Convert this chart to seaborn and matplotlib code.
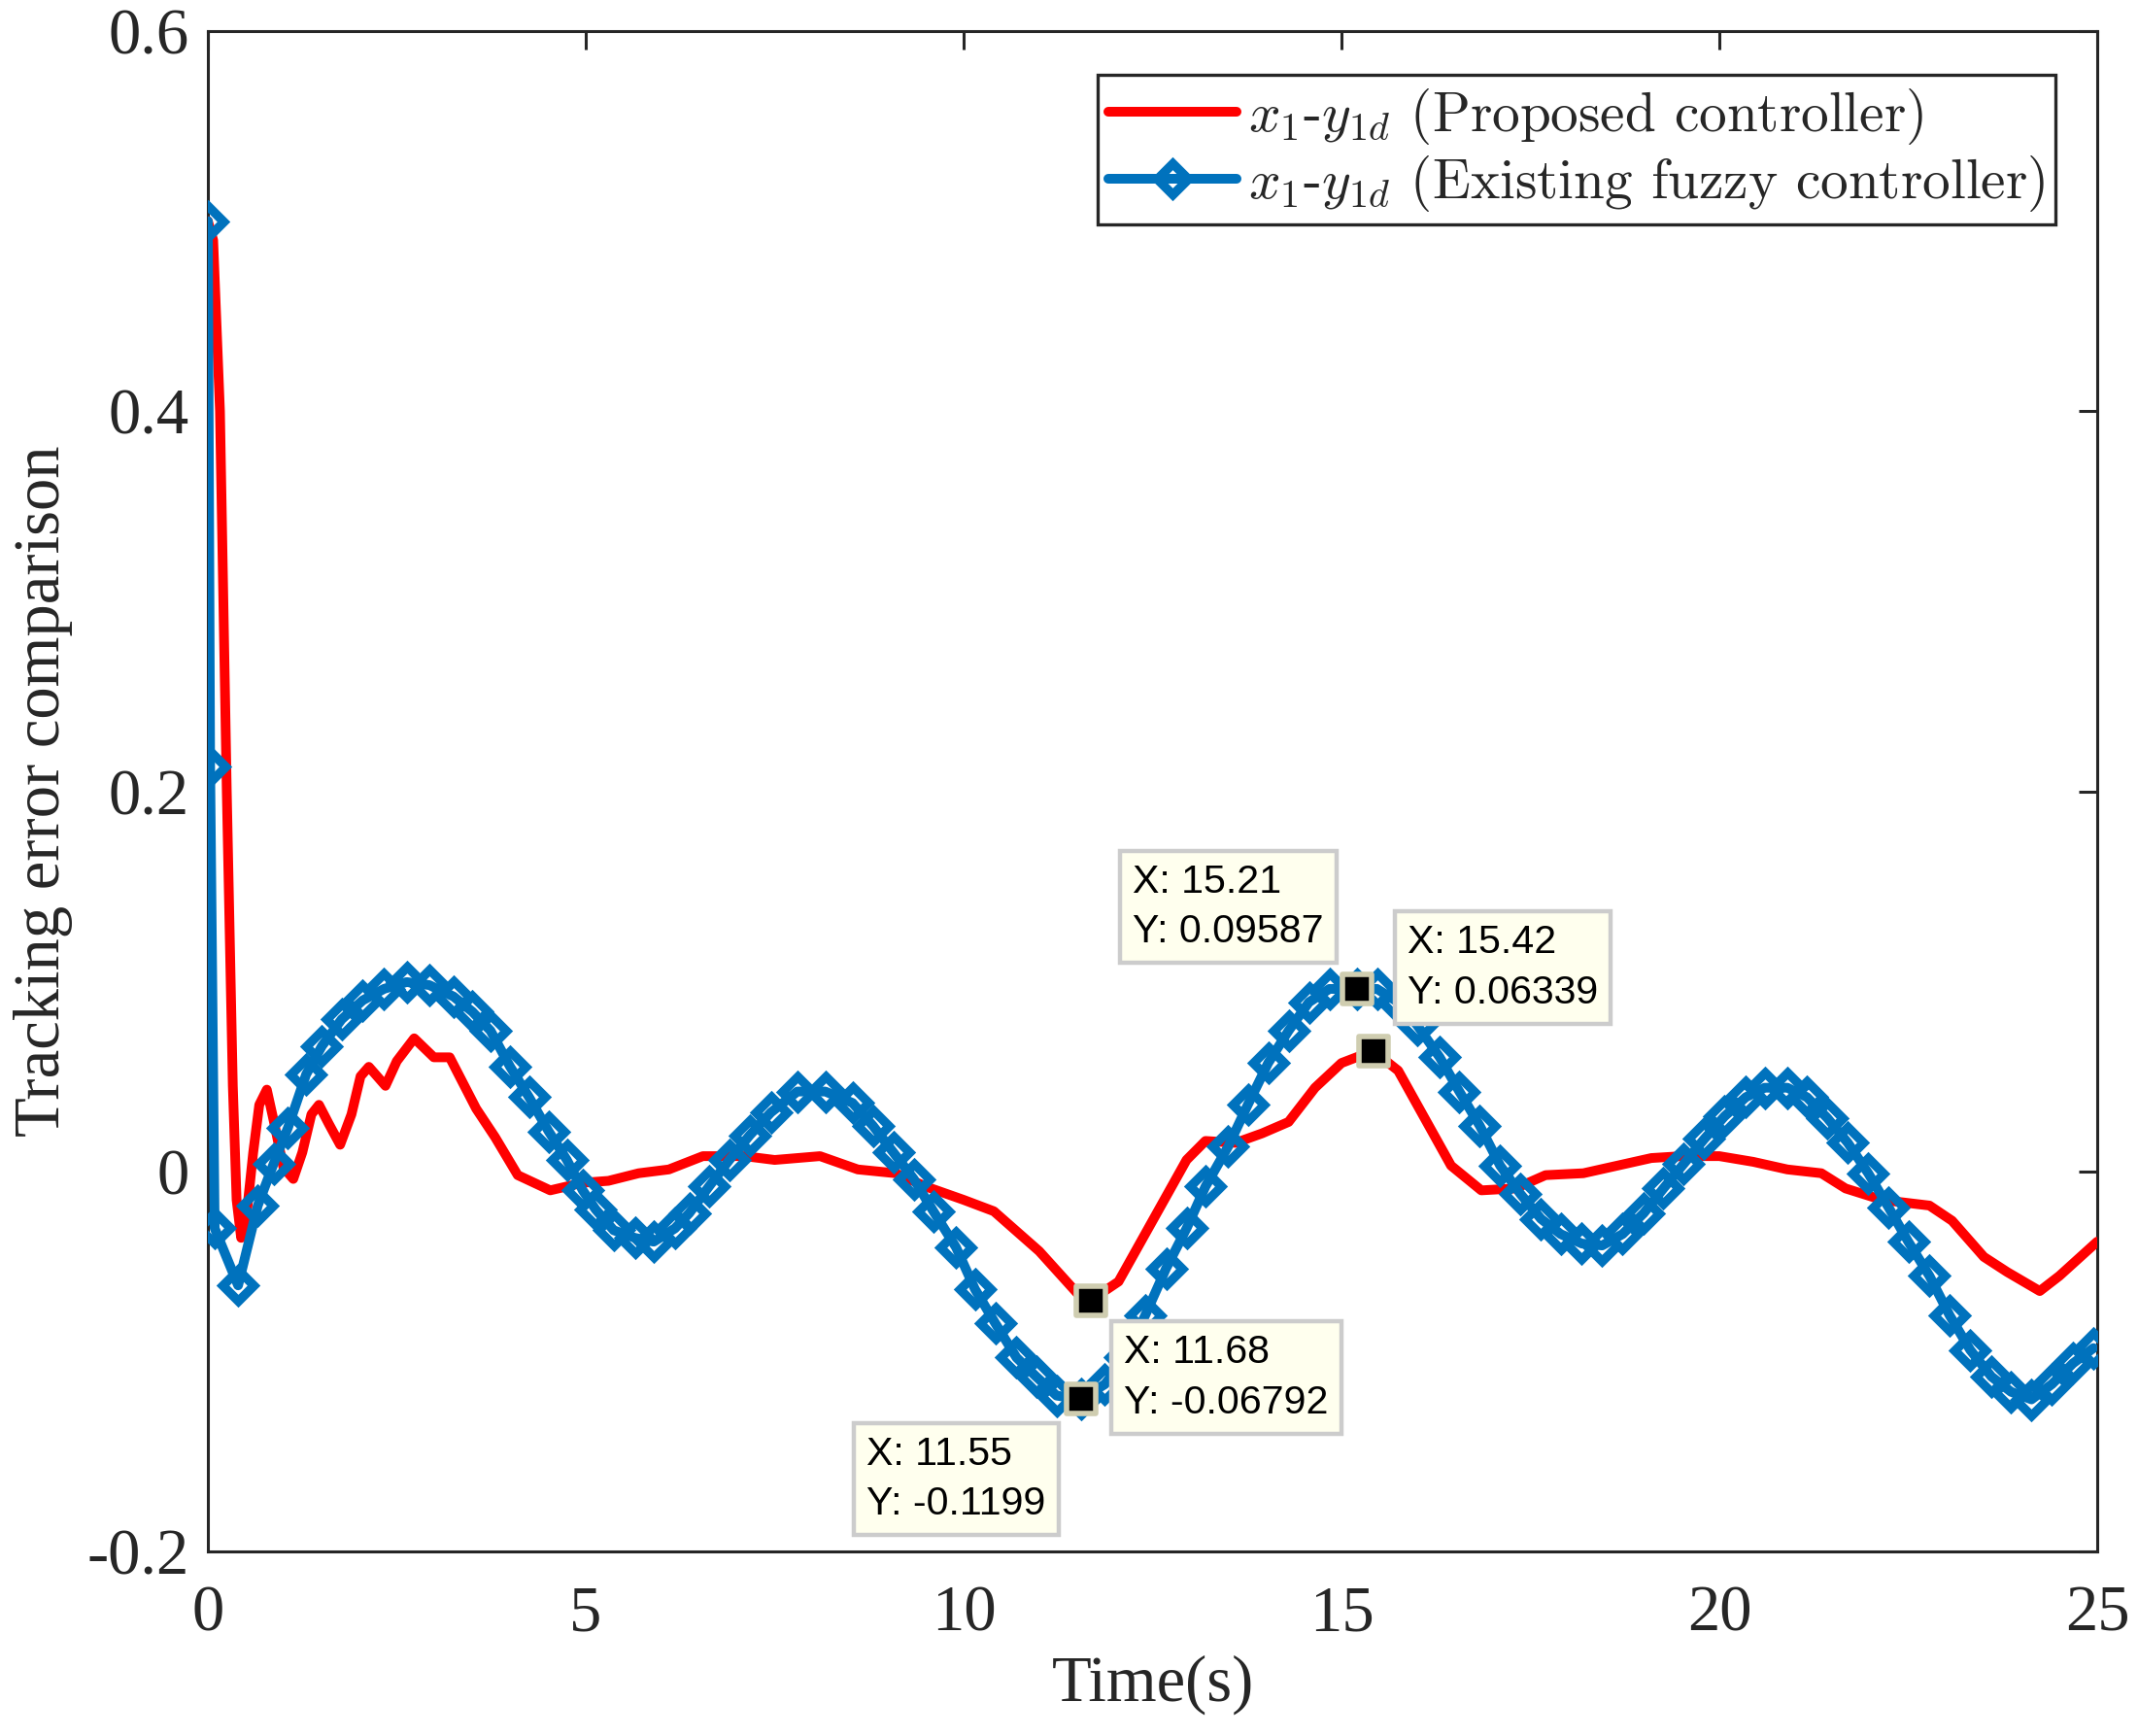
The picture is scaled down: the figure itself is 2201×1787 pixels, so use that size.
import numpy as np
import pandas as pd
import matplotlib
matplotlib.use("Agg")
import matplotlib.pyplot as plt
import seaborn as sns

# ---------------- data ----------------
t_red = [0.0, 0.07, 0.16, 0.25, 0.33, 0.38, 0.44, 0.52, 0.60, 0.68, 0.78, 0.88, 1.00, 1.13,
         1.25, 1.37, 1.47, 1.60, 1.75, 1.90, 2.02, 2.13, 2.35, 2.50, 2.73, 2.99, 3.20, 3.55,
         3.80, 4.10, 4.53, 4.96, 5.30, 5.70, 6.10, 6.55, 7.10, 7.50, 8.10, 8.60, 9.10, 9.50,
         10.00, 10.40, 11.00, 11.50, 11.68, 12.05, 12.50, 12.95, 13.20, 13.60, 13.95, 14.30,
         14.65, 15.00, 15.42, 15.75, 16.10, 16.45, 16.85, 17.30, 17.70, 18.20, 18.65, 19.10,
         19.50, 20.00, 20.45, 20.90, 21.35, 21.67, 22.15, 22.78, 23.08, 23.50, 23.81, 24.24,
         24.50, 25.00]
e_red = [0.500, 0.490, 0.400, 0.200, 0.045, -0.015, -0.035, -0.020, 0.010, 0.035, 0.043,
         0.025, 0.002, -0.004, 0.010, 0.030, 0.035, 0.025, 0.014, 0.030, 0.050, 0.055, 0.045,
         0.058, 0.070, 0.060, 0.060, 0.033, 0.018, -0.002, -0.010, -0.006, -0.005, -0.001,
         0.001, 0.008, 0.008, 0.006, 0.008, 0.001, -0.001, -0.008, -0.015, -0.021, -0.042,
         -0.064, -0.06792, -0.058, -0.026, 0.006, 0.016, 0.015, 0.020, 0.026, 0.044, 0.057,
         0.06339, 0.053, 0.028, 0.003, -0.010, -0.009, -0.002, -0.001, 0.003, 0.007, 0.008,
         0.008, 0.005, 0.001, -0.001, -0.009, -0.015, -0.018, -0.026, -0.045, -0.053, -0.063,
         -0.055, -0.037]

t_blue = [0.0, 0.03, 0.09, 0.40, 0.66, 0.87, 1.06, 1.30, 1.51, 1.77, 2.05, 2.33, 2.63, 2.93,
          3.25, 3.50, 3.74, 4.00, 4.25, 4.51, 4.75, 4.96, 5.13, 5.37, 5.65, 5.90, 6.18, 6.37,
          6.63, 6.90, 7.17, 7.45, 7.80, 8.17, 8.53, 8.80, 9.07, 9.34, 9.60, 9.90, 10.15, 10.42,
          10.70, 10.96, 11.23, 11.55, 11.87, 12.14, 12.40, 12.68, 12.95, 13.20, 13.50, 13.76,
          14.03, 14.30, 14.57, 14.84, 15.21, 15.47, 15.75, 16.00, 16.30, 16.56, 16.83, 17.10,
          17.37, 17.64, 17.90, 18.18, 18.45, 18.72, 19.00, 19.26, 19.53, 19.80, 20.07, 20.35,
          20.60, 20.90, 21.16, 21.43, 21.70, 21.97, 22.24, 22.50, 22.78, 23.05, 23.32, 23.60,
          23.86, 24.13, 24.40, 24.68, 24.95]
e_blue = [0.500, 0.213, -0.030, -0.060, -0.018, 0.004, 0.023, 0.051, 0.066, 0.080, 0.090,
          0.096, 0.0996, 0.098, 0.092, 0.084, 0.074, 0.055, 0.039, 0.021, 0.006, -0.010,
          -0.020, -0.031, -0.035, -0.037, -0.030, -0.022, -0.008, 0.006, 0.019, 0.031, 0.042,
          0.042, 0.036, 0.024, 0.010, -0.004, -0.021, -0.040, -0.062, -0.080, -0.098, -0.108,
          -0.118, -0.1199, -0.112, -0.098, -0.076, -0.051, -0.030, -0.008, 0.013, 0.035,
          0.057, 0.074, 0.089, 0.096, 0.09587, 0.096, 0.089, 0.077, 0.060, 0.042, 0.024,
          0.003, -0.012, -0.025, -0.033, -0.038, -0.039, -0.033, -0.022, -0.009, 0.004,
          0.017, 0.029, 0.039, 0.044, 0.044, 0.039, 0.028, 0.015, -0.001, -0.019, -0.037,
          -0.055, -0.076, -0.094, -0.108, -0.116, -0.120, -0.112, -0.101, -0.093]

tip_x = [15.21, 15.42, 11.68, 11.55]
tip_y = [0.09587, 0.06339, -0.06792, -0.1199]
tip_text = ["X: 15.21\nY: 0.09587", "X: 15.42\nY: 0.06339",
            "X: 11.68\nY: -0.06792", "X: 11.55\nY: -0.1199"]
tip_box_xy = [(12.24, 0.162), (15.87, 0.130), (12.12, -0.0855), (8.72, -0.139)]

x_ticks = [0, 5, 10, 15, 20, 25]
y_ticks = [-0.2, 0.0, 0.2, 0.4, 0.6]
y_ticklabels = ["-0.2", "0", "0.2", "0.4", "0.6"]

label_red = r"$x_1$-$y_{1d}$ (Proposed controller)"
label_blue = r"$x_1$-$y_{1d}$ (Existing fuzzy controller)"

df_red = pd.DataFrame({"t": t_red, "e": e_red})
df_blue = pd.DataFrame({"t": t_blue, "e": e_blue})
df_tip = pd.DataFrame({"x": tip_x, "y": tip_y})

# ---------------- style ----------------
sns.set_theme(style="white")
plt.rcParams["font.family"] = ["Liberation Serif", "DejaVu Serif"]
plt.rcParams["mathtext.fontset"] = "cm"

RED = "#FF0000"
BLUE = "#0072BD"

fig = plt.figure(figsize=(11.005, 8.935), dpi=200)
ax = fig.add_axes([0.09723, 0.10632, 0.88369, 0.87577])

sns.lineplot(data=df_red, x="t", y="e", ax=ax, color=RED, linewidth=3.6,
             estimator=None, sort=False, label=label_red, zorder=3)
sns.lineplot(data=df_blue, x="t", y="e", ax=ax, color=BLUE, linewidth=3.6,
             estimator=None, sort=False, label=label_blue, marker="D",
             markersize=8.0, markerfacecolor="none", markeredgecolor=BLUE,
             markeredgewidth=3.4, zorder=4)

sns.scatterplot(data=df_tip, x="x", y="y", ax=ax, marker="s", s=120, color="black",
                edgecolor="#CFCDB0", linewidth=2.0, zorder=6, legend=False)

for (bx, by), txt in zip(tip_box_xy, tip_text):
    ax.text(bx, by, txt, ha="left", va="top", fontsize=14.8,
            family=["Liberation Sans", "DejaVu Sans"], color="black", zorder=7,
            linespacing=1.45,
            bbox=dict(boxstyle="square,pad=0.32", facecolor="#FFFFEE",
                      edgecolor="#CCCCCC", linewidth=1.6))

ax.set_xlim(0, 25)
ax.set_ylim(-0.2, 0.6)
ax.set_xticks(x_ticks)
ax.set_xticklabels([str(v) for v in x_ticks])
ax.set_yticks(y_ticks)
ax.set_yticklabels(y_ticklabels)

for sp in ax.spines.values():
    sp.set_visible(True)
    sp.set_color("#262626")
    sp.set_linewidth(1.1)

ax.tick_params(axis="both", which="major", direction="in", length=7, width=1.1,
               color="#262626", top=True, right=True, labelsize=24,
               labelcolor="#262626")
ax.tick_params(axis="x", pad=12.5)
ax.tick_params(axis="y", pad=7)

ax.set_xlabel("Time(s)", fontsize=24, color="#262626", labelpad=4)
ax.set_ylabel("Tracking error comparison", fontsize=24, color="#262626", labelpad=5)

leg = ax.legend(loc="upper right", bbox_to_anchor=(0.978, 0.971), borderaxespad=0,
                prop={"family": "cmr10", "size": 20.6}, frameon=True, fancybox=False,
                framealpha=1, edgecolor="#262626", handlelength=2.3,
                handletextpad=0.2, labelspacing=0.12, borderpad=0.2)
leg.get_frame().set_linewidth(1.2)

fig.savefig("out.png", dpi=200)
